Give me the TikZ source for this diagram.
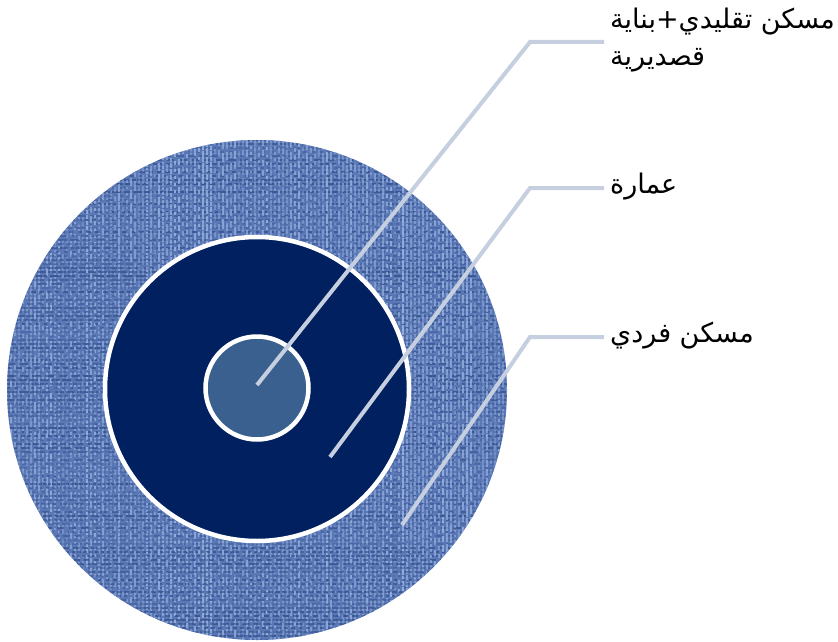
\documentclass[tikz,border=0pt]{standalone}
\usepackage{fontspec}
\newfontfamily\arabicfont[Script=Arabic]{DejaVu Sans}
\TeXXeTstate=1
\usepackage{tikz}

\definecolor{ringblue}{RGB}{90,120,182}
\definecolor{ringlight}{RGB}{170,195,235}
\definecolor{ringdark}{RGB}{35,60,120}
\definecolor{navy}{RGB}{0,32,96}
\definecolor{coreblue}{RGB}{58,96,144}
\definecolor{leader}{RGB}{197,207,224}

\begin{document}
\begin{tikzpicture}[x=1pt, y=-1pt,
    ring/.style={circle, inner sep=0pt, outer sep=0pt},
    leaderline/.style={draw=leader, line width=4pt},
    label/.style={anchor=west, align=left, inner sep=6pt,
      font=\arabicfont\fontsize{27}{37}\selectfont}]

    \useasboundingbox (0,0) rectangle (838,642);

    % outer ring with a woven look
    \node[ring, fill=ringblue, minimum size=500pt] (outer) at (257,390) {};
    \begin{scope}
      \clip (257,390) circle (250);
      \pgfmathsetseed{7}
      \foreach \k in {0,4,...,500}{
        \pgfmathsetmacro\da{rnd*9+2}\pgfmathsetmacro\db{rnd*4+1}
        \pgfmathsetmacro\oa{rnd*.4+.3}
        \draw[ringlight, line width=1.6pt, opacity=\oa, dash pattern=on \da pt off \db pt] (\k+7,140) -- (\k+7,640);
        \pgfmathsetmacro\dc{rnd*9+2}\pgfmathsetmacro\dd{rnd*4+1}
        \pgfmathsetmacro\ob{rnd*.35+.2}
        \draw[ringdark, line width=1.4pt, opacity=\ob, dash pattern=on \dc pt off \dd pt] (7,\k+140) -- (507,\k+140);
      }
    \end{scope}

    \node[ring, fill=navy, draw=white, line width=4.5pt, minimum size=304pt] (middle) at (257,389) {};
    \node[ring, fill=coreblue, draw=white, line width=4.5pt, minimum size=103pt] (core) at (257,388) {};

    % labels
    \node[label] (lab1) at (604,40) {\beginR مسكن تقليدي+بناية\endR\\\beginR قصديرية\endR};
    \node[label] (lab2) at (604,187) {\beginR عمارة\endR};
    \node[label] (lab3) at (604,336) {\beginR مسكن فردي\endR};

    % leader lines
    \coordinate (c1) at (257,385);
    \coordinate (b1) at (530,42);
    \coordinate (c2) at (330,457);
    \coordinate (b2) at (530,188);
    \coordinate (c3) at (402,525);
    \coordinate (b3) at (530,337);

    \draw[leaderline] (c1) -- (b1) -- (b1 -| lab1.west);
    \draw[leaderline] (c2) -- (b2) -- (b2 -| lab2.west);
    \draw[leaderline] (c3) -- (b3) -- (b3 -| lab3.west);
\end{tikzpicture}
\end{document}
